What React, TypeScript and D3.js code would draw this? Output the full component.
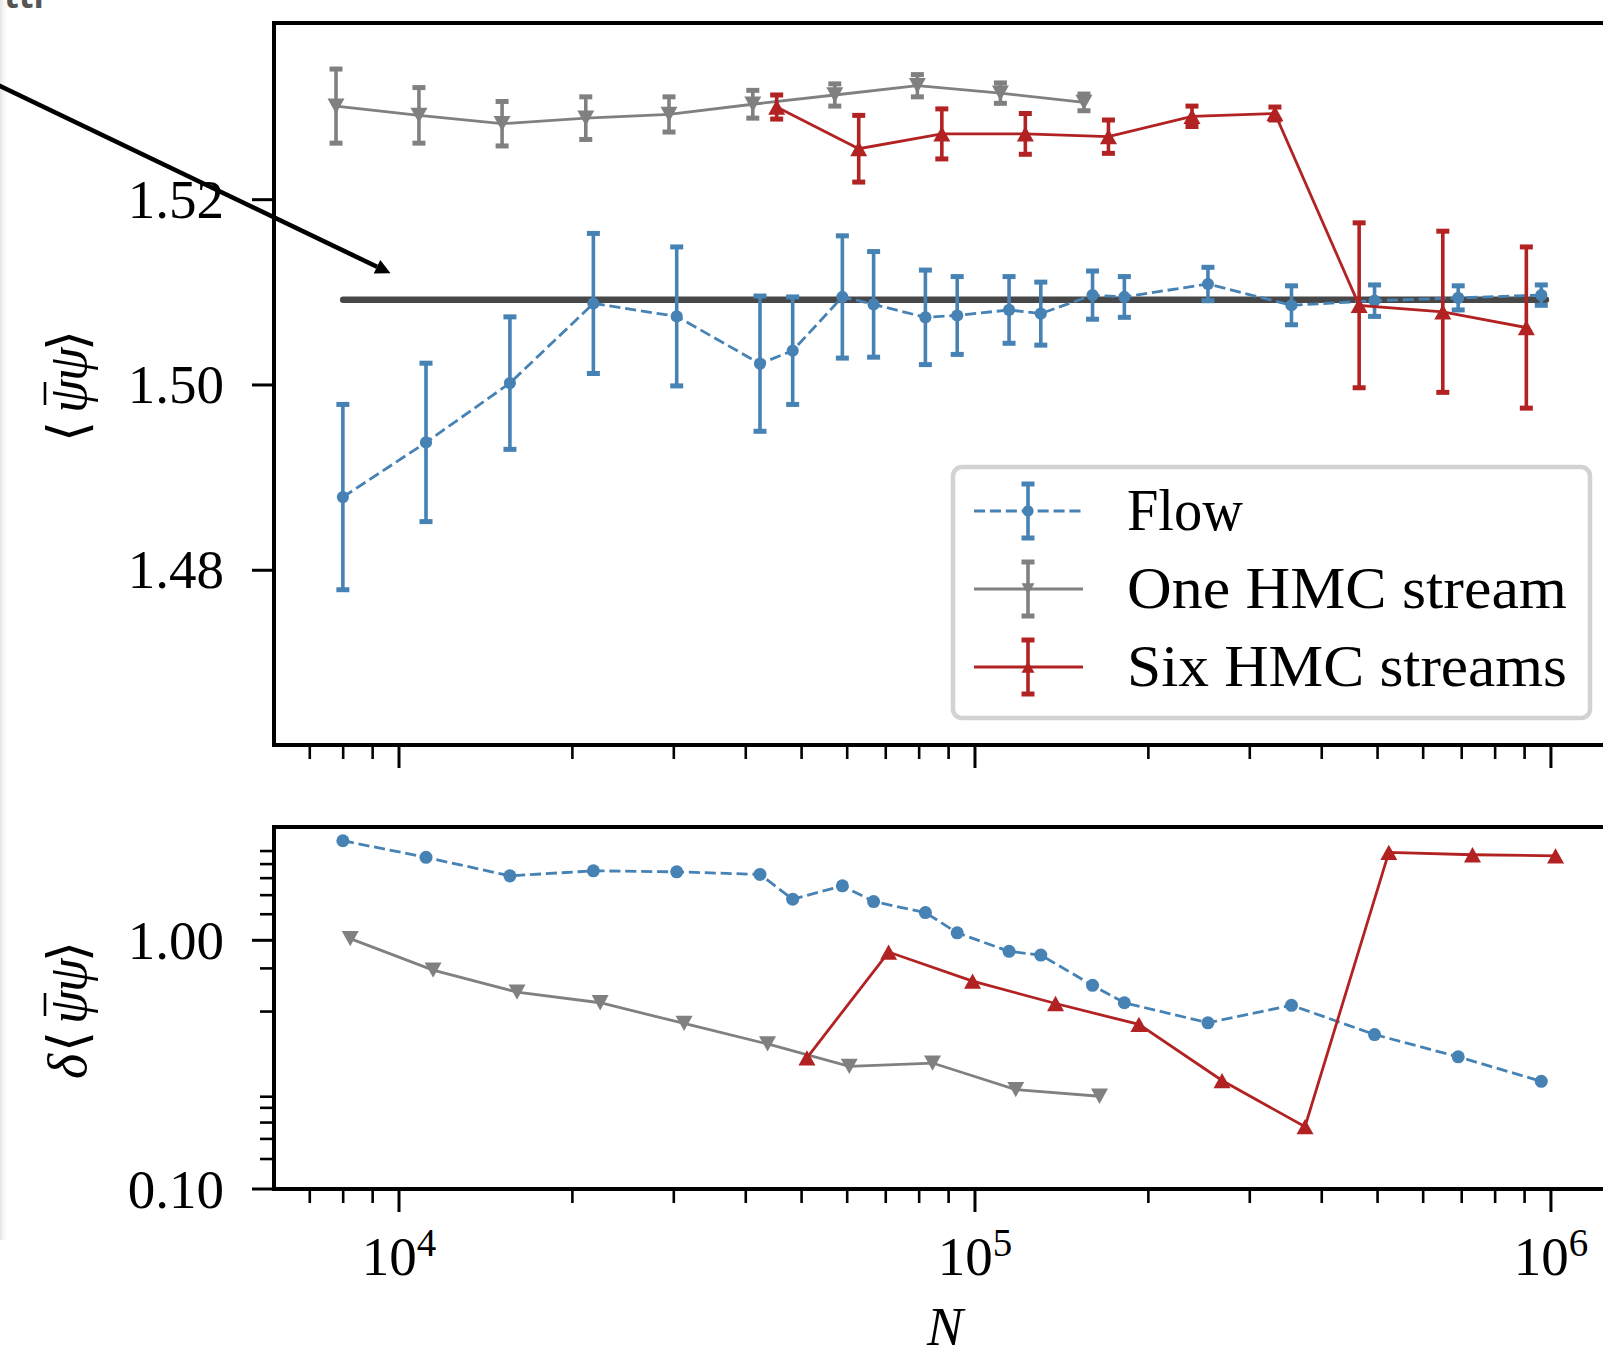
import React from "react";
import * as d3 from "d3";

const W = 1603;
const H = 1349;

// ---- data ----
// Flow (same N in both panels)
const flowN = [7990, 11140, 15580, 21750, 30350, 42340, 48250, 58850, 66680, 82020, 93140, 114600, 130100, 160000, 181700, 253800, 354400, 494000, 690200, 962100];
const flowMean = [1.4879, 1.4938, 1.5002, 1.5088, 1.5074, 1.5023, 1.5037, 1.5095, 1.5087, 1.5073, 1.5075, 1.5081, 1.5077, 1.5097, 1.5095, 1.5109, 1.5086, 1.5091, 1.5094, 1.5097];
const flowErr = [0.0100, 0.00855, 0.00715, 0.00756, 0.0075, 0.0073, 0.0058, 0.0066, 0.0057, 0.0051, 0.0042, 0.0036, 0.0034, 0.0026, 0.0022, 0.0018, 0.0021, 0.0017, 0.0013, 0.0011];
const flowDelta = [2.514, 2.156, 1.816, 1.903, 1.885, 1.840, 1.463, 1.656, 1.432, 1.293, 1.072, 0.903, 0.872, 0.659, 0.561, 0.466, 0.548, 0.418, 0.340, 0.271];

// One HMC stream
const oneTopN = [7774, 10830, 15100, 21100, 29430, 41140, 57100, 79430, 110700, 154600];
const oneMean = [1.5301, 1.5291, 1.5282, 1.5288, 1.5292, 1.5303, 1.5313, 1.5323, 1.5315, 1.5305];
const oneErr = [0.0040, 0.0030, 0.0024, 0.0023, 0.0019, 0.0015, 0.0012, 0.0012, 0.0011, 0.0009];
const oneBotN = [8229, 11460, 16030, 22350, 31260, 43640, 60500, 84400, 117700, 164500];
const oneDelta = [1.016, 0.759, 0.619, 0.561, 0.463, 0.383, 0.311, 0.321, 0.251, 0.236];

// Six HMC streams
const sixTopN = [45260, 62830, 87590, 122300, 170500, 238100, 331700, 464500, 649000, 906300];
const sixMean = [1.5300, 1.5255, 1.5271, 1.5271, 1.5268, 1.5290, 1.5293, 1.5086, 1.5079, 1.5062];
const sixErr = [0.0013, 0.0036, 0.0027, 0.0022, 0.0018, 0.0011, 0.0007, 0.0089, 0.0087, 0.0087];
const sixBotN = [51080, 70800, 99040, 138000, 192600, 268500, 374100, 523000, 730800, 1018600];
const sixDelta = [0.337, 0.897, 0.685, 0.557, 0.459, 0.273, 0.178, 2.258, 2.208, 2.187];

// reference value (thick dark line)
const refN = [8000, 980000];
const refValue = 1.5092;

// ticks
const nMajorTicks = [1e4, 1e5, 1e6];
const nMajorExp = ["4", "5", "6"];
const nMinorTicks = [7e3, 8e3, 9e3, 2e4, 3e4, 4e4, 5e4, 6e4, 7e4, 8e4, 9e4, 2e5, 3e5, 4e5, 5e5, 6e5, 7e5, 8e5, 9e5];
const meanTicks = [1.48, 1.5, 1.52];
const deltaTicks = [0.1, 1.0];
const deltaMinorTicks = [0.132, 0.159, 0.185, 0.212, 0.235, 0.517, 0.771, 1.273, 1.519, 1.778, 2.025, 2.285];

const legendLabels = ["Flow", "One HMC stream", "Six HMC streams"];
const legendWidths = [116, 440, 440];

// annotation arrow (top panel data coords)
const arrowFrom = { n: 2030, v: 1.53227 };
const arrowTo = { n: 9667, v: 1.51206 };

// ---- style ----
const BLUE = "#4682b4";
const GRAY = "#808080";
const RED = "#b22222";
const FONT = "'Liberation Serif', 'DejaVu Serif', serif";

const left = 274;
const right = 1616;
const top1 = 23;
const bot1 = 745;
const top2 = 827;
const bot2 = 1189;

const x = d3.scaleLog().domain([6067, 1.297e6]).range([left, right]);
const yTop = d3.scaleLinear().domain([1.46114, 1.53907]).range([bot1, top1]);
const yBot = d3.scaleLog().domain([0.1, 2.855]).range([bot2, top2]);

const fmt2 = d3.format(".2f");

function tri(cx: number, cy: number, w: number, h: number, up: boolean) {
  return up
    ? `M${cx},${cy - h / 2}L${cx + w / 2},${cy + h / 2}L${cx - w / 2},${cy + h / 2}Z`
    : `M${cx},${cy + h / 2}L${cx + w / 2},${cy - h / 2}L${cx - w / 2},${cy - h / 2}Z`;
}

function Marker({ kind, cx, cy, color, size }: any) {
  if (kind === "o") return <circle cx={cx} cy={cy} r={size / 2.3} fill={color} />;
  return <path d={tri(cx, cy, size, size * 0.9, kind === "^")} fill={color} />;
}

// rotated axis label, pieces placed along the (rotated) baseline
function PsiLabel({ cx, cy, delta }: { cx: number; cy: number; delta: boolean }) {
  const pos = delta ? { d: -71, l: -44, p1: -16, p2: 16, r: 46 } : { d: 0, l: -57, p1: -28, p2: 4, r: 34 };
  return (
    <g transform={`translate(${cx},${cy}) rotate(-90)`} fontFamily={FONT} fontSize={54} fill="#000">
      {delta && <text x={pos.d} y={0} fontStyle="italic">δ</text>}
      <text x={pos.l} y={0}>⟨</text>
      <text x={pos.p1} y={0} fontStyle="italic">ψ</text>
      <line x1={pos.p1 + 8} x2={pos.p1 + 31} y1={-41} y2={-41} stroke="#000" strokeWidth={2.6} />
      <text x={pos.p2} y={0} fontStyle="italic">ψ</text>
      <text x={pos.r} y={0}>⟩</text>
    </g>
  );
}

const topSeries = [
  { key: "flow", n: flowN, mean: flowMean, err: flowErr, color: BLUE, dash: "11.1 4.8", marker: "o" },
  { key: "one", n: oneTopN, mean: oneMean, err: oneErr, color: GRAY, dash: undefined, marker: "v" },
  { key: "six", n: sixTopN, mean: sixMean, err: sixErr, color: RED, dash: undefined, marker: "^" },
];

const botSeries = [
  { key: "flow", n: flowN, d: flowDelta, color: BLUE, dash: "11.1 4.8", marker: "o" },
  { key: "one", n: oneBotN, d: oneDelta, color: GRAY, dash: undefined, marker: "v" },
  { key: "six", n: sixBotN, d: sixDelta, color: RED, dash: undefined, marker: "^" },
];

function XTicks({ y0, labels }: { y0: number; labels: boolean }) {
  return (
    <g stroke="#000" strokeWidth={2.6}>
      {nMinorTicks.map((t) => (
        <line key={"m" + t} x1={x(t)} x2={x(t)} y1={y0} y2={y0 + 14} />
      ))}
      {nMajorTicks.map((t, i) => (
        <g key={"M" + t}>
          <line x1={x(t)} x2={x(t)} y1={y0} y2={y0 + 23} strokeWidth={3} />
          {labels && (
            <text x={x(t)} y={y0 + 86} textAnchor="middle" fontFamily={FONT} fontSize={55} stroke="none" fill="#000">
              10
              <tspan dy={-19} fontSize={39}>{nMajorExp[i]}</tspan>
            </text>
          )}
        </g>
      ))}
    </g>
  );
}

export default function App() {
  const ln = d3.line<[number, number]>().x((d) => d[0]).y((d) => d[1]);

  // arrow geometry in pixels
  const ax1 = x(arrowFrom.n), ay1 = yTop(arrowFrom.v);
  const ax2 = x(arrowTo.n), ay2 = yTop(arrowTo.v);
  const len = Math.hypot(ax2 - ax1, ay2 - ay1);
  const ux = (ax2 - ax1) / len, uy = (ay2 - ay1) / len;
  const hl = 15, hw = 7.6;
  const bx = ax2 - ux * hl, by = ay2 - uy * hl;
  const head = `M${ax2},${ay2}L${bx - uy * hw},${by + ux * hw}L${bx + uy * hw},${by - ux * hw}Z`;

  const legendRows = [
    { color: BLUE, dash: "11.1 4.8", marker: "o" },
    { color: GRAY, dash: undefined, marker: "v" },
    { color: RED, dash: undefined, marker: "^" },
  ];

  return (
    <svg width={W} height={H} style={{ position: "absolute", left: 0, top: 0, background: "#fff" }}>
      <defs>
        <linearGradient id="edge" x1="0" x2="1" y1="0" y2="0">
          <stop offset="0" stopColor="#e4e4e4" />
          <stop offset="1" stopColor="#ffffff" stopOpacity={0} />
        </linearGradient>
      </defs>
      <rect x={0} y={0} width={W} height={H} fill="#fff" />
      <rect x={0} y={0} width={9} height={1240} fill="url(#edge)" />
      <text x={4} y={8} fontFamily="'Open Sans', sans-serif" fontWeight={700} fontSize={34} fill="#555">ttl</text>

      {/* ===== top panel ===== */}
      <line x1={x(refN[0])} x2={x(refN[1])} y1={yTop(refValue)} y2={yTop(refValue)} stroke="#474747" strokeWidth={6.5} strokeLinecap="round" />

      {topSeries.map((s) => {
        const pts = s.n.map((n, i) => [x(n), yTop(s.mean[i])] as [number, number]);
        return (
          <g key={s.key}>
            <path d={ln(pts) || ""} fill="none" stroke={s.color} strokeWidth={2.8} strokeDasharray={s.dash} />
            {s.n.map((n, i) => {
              const cx = x(n);
              const y1 = yTop(s.mean[i] + s.err[i]);
              const y2 = yTop(s.mean[i] - s.err[i]);
              return (
                <g key={i} stroke={s.color}>
                  <line x1={cx} x2={cx} y1={y1} y2={y2} strokeWidth={3.6} />
                  <line x1={cx - 6.5} x2={cx + 6.5} y1={y1} y2={y1} strokeWidth={5} />
                  <line x1={cx - 6.5} x2={cx + 6.5} y1={y2} y2={y2} strokeWidth={5} />
                </g>
              );
            })}
            {pts.map((p, i) => (
              <Marker key={"k" + i} kind={s.marker} cx={p[0]} cy={p[1]} color={s.color} size={s.marker === "o" ? 14 : 17} />
            ))}
          </g>
        );
      })}

      {/* legend */}
      <rect x={953} y={467} width={637} height={251} rx={9} fill="#fff" stroke="#d2d2d2" strokeWidth={4.5} />
      {legendRows.map((r, i) => {
        const cy = 511 + i * 78;
        return (
          <g key={i}>
            <line x1={974} x2={1083} y1={cy} y2={cy} stroke={r.color} strokeWidth={2.8} strokeDasharray={r.dash} />
            <line x1={1028} x2={1028} y1={cy - 27} y2={cy + 27} stroke={r.color} strokeWidth={3.6} />
            <line x1={1021.5} x2={1034.5} y1={cy - 27} y2={cy - 27} stroke={r.color} strokeWidth={5} />
            <line x1={1021.5} x2={1034.5} y1={cy + 27} y2={cy + 27} stroke={r.color} strokeWidth={5} />
            <Marker kind={r.marker} cx={1028} cy={cy} color={r.color} size={13} />
            <text x={1127} y={cy + 19} fontFamily={FONT} fontSize={59} fill="#000" textLength={legendWidths[i]} lengthAdjust="spacingAndGlyphs">{legendLabels[i]}</text>
          </g>
        );
      })}

      {/* frame */}
      <rect x={left} y={top1} width={right - left} height={bot1 - top1} fill="none" stroke="#000" strokeWidth={4} />
      <XTicks y0={bot1} labels={false} />
      {meanTicks.map((t) => (
        <g key={t}>
          <line x1={left - 22} x2={left} y1={yTop(t)} y2={yTop(t)} stroke="#000" strokeWidth={3} />
          <text x={224} y={yTop(t) + 18} textAnchor="end" fontFamily={FONT} fontSize={55} fill="#000">{fmt2(t)}</text>
        </g>
      ))}
      <PsiLabel cx={86} cy={385} delta={false} />

      {/* ===== bottom panel ===== */}
      {botSeries.map((s) => {
        const pts = s.n.map((n, i) => [x(n), yBot(s.d[i])] as [number, number]);
        return (
          <g key={s.key}>
            <path d={ln(pts) || ""} fill="none" stroke={s.color} strokeWidth={2.8} strokeDasharray={s.dash} />
            {pts.map((p, i) => (
              <Marker key={i} kind={s.marker} cx={p[0]} cy={p[1]} color={s.color} size={s.marker === "o" ? 15 : 17} />
            ))}
          </g>
        );
      })}
      <rect x={left} y={top2} width={right - left} height={bot2 - top2} fill="none" stroke="#000" strokeWidth={4} />
      <XTicks y0={bot2} labels={true} />
      {deltaMinorTicks.map((t) => (
        <line key={t} x1={left - 14} x2={left} y1={yBot(t)} y2={yBot(t)} stroke="#000" strokeWidth={2.6} />
      ))}
      {deltaTicks.map((t) => (
        <g key={t}>
          <line x1={left - 22} x2={left} y1={yBot(t)} y2={yBot(t)} stroke="#000" strokeWidth={3} />
          <text x={224} y={yBot(t) + 18.5} textAnchor="end" fontFamily={FONT} fontSize={55} fill="#000">{fmt2(t)}</text>
        </g>
      ))}
      <PsiLabel cx={86} cy={1008} delta={true} />
      <text x={(left + right) / 2} y={1345} textAnchor="middle" fontFamily={FONT} fontStyle="italic" fontSize={54} fill="#000">N</text>

      {/* annotation arrow */}
      <line x1={ax1 - ux * 40} y1={ay1 - uy * 40} x2={bx} y2={by} stroke="#000" strokeWidth={4.6} />
      <path d={head} fill="#000" />
    </svg>
  );
}
